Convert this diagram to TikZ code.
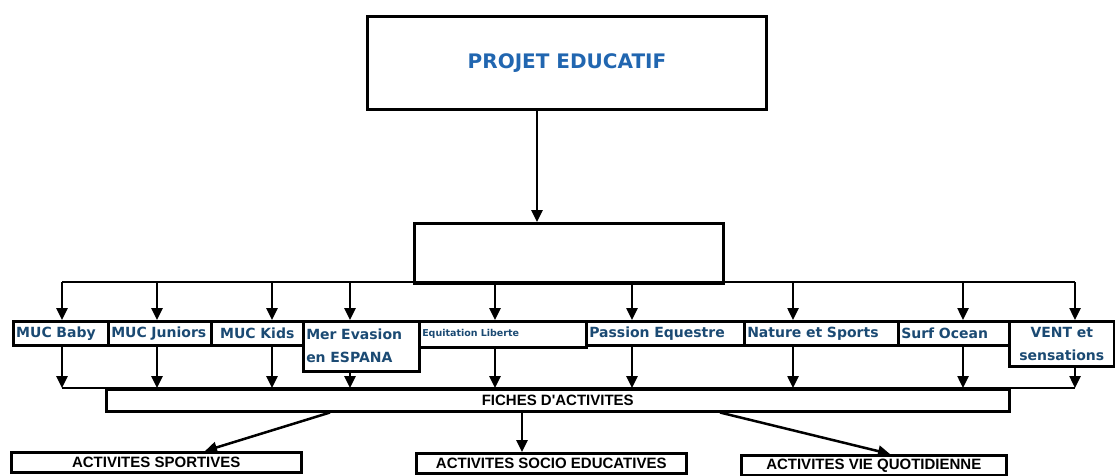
\documentclass[tikz,border=0pt]{standalone}
\usepackage{fontspec}
\setmainfont{DejaVu Sans}
\newfontfamily\boxfont{Liberation Sans}
\usepackage{xcolor}
\usetikzlibrary{arrows.meta}
\definecolor{titleblue}{HTML}{2166B0}
\definecolor{unitblue}{HTML}{1B4A73}

\begin{document}
\begin{tikzpicture}[x=1pt, y=-1pt, line width=2.5pt, >={Triangle[width=11pt,length=12pt]},
	unit/.style = {draw, anchor=north west, inner xsep=3pt, inner ysep=0pt, align=left, text=unitblue, font=\bfseries\fontsize{14}{23}\selectfont},
	act/.style = {draw, anchor=north west, inner sep=0pt, minimum height=20, font=\boxfont\bfseries\fontsize{15}{17}\selectfont}]
		\useasboundingbox (0,0) rectangle (1115,475);
		\node [draw, line width=3pt, anchor=north west, minimum width=399, minimum height=93, text=titleblue, font=\bfseries\fontsize{20}{24}\selectfont] (projet) at (366,15) {PROJET EDUCATIF};
		\node [draw, line width=3pt, anchor=north west, minimum width=309, minimum height=60] (cadre) at (413,222) {};
		\draw [->] (537,0 |- projet.south) -- (537,0 |- cadre.north);

		\node [unit, text width=89, minimum height=24] (baby) at (12,320) {MUC Baby};
		\node [unit, text width=97, minimum height=24] (juniors) at (107,320) {MUC Juniors};
		\node [unit, text width=86, minimum height=24, align=center] (kids) at (210,320) {MUC Kids};
		\node [unit, text width=110, minimum height=50] (mer) at (302,320) {Mer Evasion\\en ESPANA};
		\node [unit, text width=161, minimum height=26, font=\bfseries\fontsize{9.5}{11}\selectfont] (equi) at (418,320) {Equitation Liberte};
		\node [unit, text width=152, minimum height=24] (passion) at (585,320) {Passion Equestre};
		\node [unit, text width=148, minimum height=24] (nature) at (743,320) {Nature et Sports};
		\node [unit, text width=105, minimum height=24] (surf) at (897,320) {Surf Ocean};
		\node [unit, text width=99, minimum height=45, align=center] (vent) at (1008,320) {VENT et\\sensations};

		% lignes de distribution
		\coordinate (hautG) at (62,282);
		\coordinate (hautD) at (1075,282);
		\coordinate (basG) at (62,388);
		\coordinate (basD) at (1075,388);
		\draw (hautG) -- (hautD);
		\draw (basG) -- (basD);
		\foreach \x/\n in {62/baby, 157/juniors, 272/kids, 350/mer, 495/equi, 632/passion, 793/nature, 963/surf, 1075/vent} {
			\draw [->] (\x,0 |- hautG) -- (\x,0 |- \n.north);
			\draw [->] (\x,0 |- \n.south) -- (\x,0 |- basG);
		}

		\node [act, minimum width=903, minimum height=22] (fiches) at (105,388) {FICHES D'ACTIVITES};
		\node [act, minimum width=290] (sportives) at (10,451) {ACTIVITES SPORTIVES};
		\node [act, minimum width=270] (socio) at (415,452) {ACTIVITES SOCIO EDUCATIVES};
		\node [act, minimum width=265] (quotidien) at (740,454) {ACTIVITES VIE QUOTIDIENNE};
		\draw [->] (330,0 |- fiches.south) -- (205,0 |- sportives.north);
		\draw [->] (522,0 |- fiches.south) -- (522,0 |- socio.north);
		\draw [->] (720,0 |- fiches.south) -- (890,0 |- quotidien.north);
\end{tikzpicture}
\end{document}
